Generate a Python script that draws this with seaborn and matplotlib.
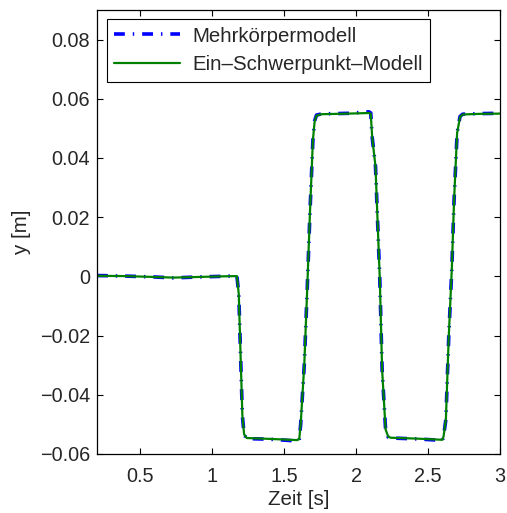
import numpy as np
import pandas as pd
import matplotlib
matplotlib.use("Agg")
import matplotlib.pyplot as plt
from matplotlib.ticker import FixedLocator, FuncFormatter
import seaborn as sns

# Lateral position y over time for the two vehicle models
time_mkm = [0.20, 0.40, 0.60, 0.73, 0.90, 1.05, 1.172, 1.185, 1.21, 1.222, 1.24,
            1.40, 1.59, 1.605, 1.615, 1.64, 1.66, 1.68, 1.70, 1.712, 1.725, 1.76,
            1.95, 2.09, 2.102, 2.112, 2.135, 2.165, 2.181, 2.205, 2.223, 2.24,
            2.42, 2.60, 2.608, 2.624, 2.644, 2.665, 2.681, 2.702, 2.722, 2.74,
            2.85, 3.00]
y_mkm = [0.0003, 0.0001, -0.0002, -0.0005, -0.0002, 0.0000, 0.0002, -0.0060,
         -0.0470, -0.0535, -0.0548, -0.0550, -0.0556, -0.0553, -0.0500, -0.0300,
         -0.0050, 0.0220, 0.0460, 0.0525, 0.0545, 0.0549, 0.0551, 0.0556, 0.0552,
         0.0470, 0.0371, -0.0011, -0.0315, -0.0517, -0.0543, -0.0546, -0.0549,
         -0.0554, -0.0540, -0.0483, -0.0202, 0.0023, 0.0259, 0.0484, 0.0540,
         0.0548, 0.0550, 0.0551]

time_esm = [0.20, 0.40, 0.60, 0.73, 0.90, 1.05, 1.172, 1.185, 1.21, 1.222, 1.24,
            1.40, 1.59, 1.605, 1.615, 1.64, 1.66, 1.68, 1.70, 1.712, 1.725, 1.76,
            1.95, 2.09, 2.102, 2.112, 2.135, 2.165, 2.181, 2.205, 2.223, 2.24,
            2.42, 2.60, 2.608, 2.624, 2.644, 2.665, 2.681, 2.702, 2.722, 2.74,
            2.85, 3.00]
y_esm = [0.0002, 0.0001, -0.0002, -0.0004, -0.0002, 0.0000, 0.0001, -0.0060,
         -0.0470, -0.0533, -0.0546, -0.0549, -0.0553, -0.0550, -0.0500, -0.0300,
         -0.0050, 0.0220, 0.0460, 0.0523, 0.0543, 0.0548, 0.0550, 0.0552, 0.0549,
         0.0470, 0.0371, -0.0011, -0.0315, -0.0517, -0.0541, -0.0545, -0.0548,
         -0.0552, -0.0540, -0.0483, -0.0202, 0.0023, 0.0259, 0.0484, 0.0538,
         0.0547, 0.0549, 0.0550]

label_mkm = "Mehrkörpermodell"
label_esm = "Ein–Schwerpunkt–Modell"

x_ticks = [0.5, 1.0, 1.5, 2.0, 2.5, 3.0]
y_ticks = [-0.06, -0.04, -0.02, 0.0, 0.02, 0.04, 0.06, 0.08]

df_mkm = pd.DataFrame({"t": time_mkm, "y": y_mkm})
df_esm = pd.DataFrame({"t": time_esm, "y": y_esm})

sns.set_style("white")
plt.rcParams["font.family"] = ["Liberation Sans", "DejaVu Sans"]

fig = plt.figure(figsize=(5.07, 5.13), dpi=100)
ax = fig.add_axes([97 / 507, 1 - 454 / 513, 403 / 507, 444 / 513])

sns.lineplot(data=df_mkm, x="t", y="y", ax=ax, color="#0000ff", linewidth=2.6,
             linestyle=(0, (3.0, 2.2, 0.4, 2.2)), dash_capstyle="butt",
             sort=False, estimator=None, label=label_mkm)
sns.lineplot(data=df_esm, x="t", y="y", ax=ax, color="#008000", linewidth=1.6,
             sort=False, estimator=None, label=label_esm)

ax.set_xlim(0.2, 3.0)
ax.set_ylim(-0.06, 0.09)
ax.xaxis.set_major_locator(FixedLocator(x_ticks))
ax.yaxis.set_major_locator(FixedLocator(y_ticks))
ax.xaxis.set_major_formatter(FuncFormatter(lambda v, p: f"{v:g}"))


def fmt_y(v, p):
    if abs(v) < 1e-12:
        return "0"
    s = f"{abs(v):.2f}"
    return ("\u2212" + s) if v < 0 else s


ax.yaxis.set_major_formatter(FuncFormatter(fmt_y))

ax.tick_params(axis="both", which="major", direction="in", length=4,
               width=0.8, color="black", labelsize=14.3, top=True, right=True,
               bottom=True, left=True)
ax.tick_params(axis="x", pad=9)
ax.tick_params(axis="y", pad=5)
for s in ax.spines.values():
    s.set_visible(True)
    s.set_color("black")
    s.set_linewidth(0.9)

ax.set_xlabel("Zeit [s]", fontsize=14.8, labelpad=3)
ax.set_ylabel("y [m]", fontsize=14.8, labelpad=6)

leg = ax.legend(loc="upper left", bbox_to_anchor=(0.024, 0.98), borderaxespad=0,
                fontsize=14.7, handlelength=3.2, handletextpad=0.6,
                labelspacing=0.45, borderpad=0.38, fancybox=False,
                frameon=True, framealpha=1)
leg.get_frame().set_edgecolor("black")
leg.get_frame().set_linewidth(0.8)

fig.savefig("out.png", dpi=100, facecolor="white")
